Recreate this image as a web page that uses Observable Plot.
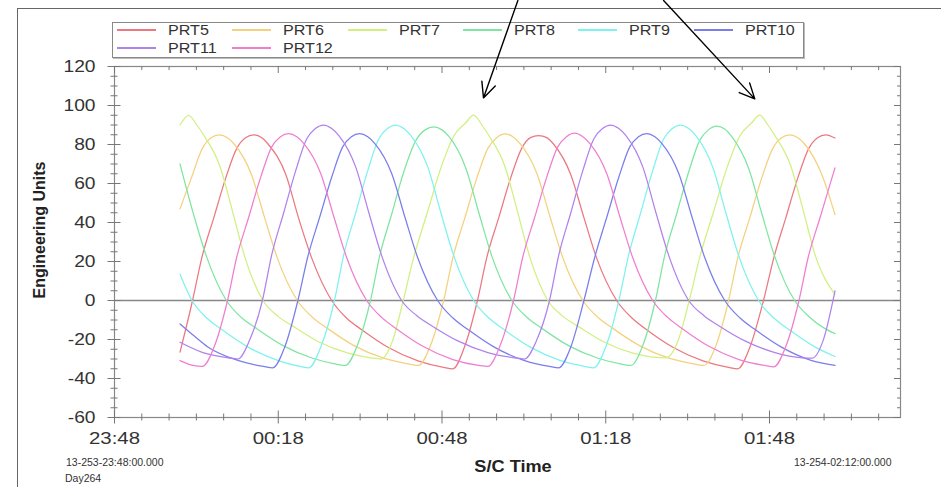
<!DOCTYPE html>
<html><head><meta charset="utf-8">
<script src="https://cdn.jsdelivr.net/npm/d3@7"></script>
<script src="https://cdn.jsdelivr.net/npm/@observablehq/plot@0.6"></script>
<style>
body{margin:0;background:#fff;font-family:"Liberation Sans",Arial,sans-serif;color:#333;}
#wrap{position:relative;width:941px;height:487px;overflow:hidden;background:#fff;}
#outer{position:absolute;left:17px;top:8px;width:1000px;height:600px;border-left:1.5px solid #666;border-top:1.5px solid #666;}
#legend{position:absolute;left:112px;top:22px;width:690px;height:34px;border:1px solid #888;box-shadow:1px 1px 0 #bbb;background:#fff;}
.li{position:absolute;font-size:14px;color:#333;line-height:14px;transform:scaleX(1.15);transform-origin:left center;}
.ll{position:absolute;height:2px;width:39px;}
#chart{position:absolute;left:0;top:0;}
.ylab{position:absolute;left:40px;top:230px;transform:translate(-50%,-50%) rotate(-90deg);font-weight:bold;font-size:16px;color:#222;white-space:nowrap;}
.xlab{position:absolute;left:513px;top:457px;transform:translateX(-50%) scaleX(1.1);font-weight:bold;font-size:16.5px;color:#222;}
.small{position:absolute;font-size:10.5px;color:#333;white-space:nowrap;}
</style></head><body>
<div id="wrap">
  <div id="outer"></div>
  <div id="legend"></div>
  <div id="chart"></div>
  <div class="ylab">Engineering Units</div>
  <div class="xlab">S/C Time</div>
  <div class="small" style="left:66px;top:456px">13-253-23:48:00.000</div>
  <div class="small" style="left:65px;top:472px">Day264</div>
  <div class="small" style="left:794px;top:456px">13-254-02:12:00.000</div>
</div>
<script>
// ---- data (minutes after 00:00 on day 254, value in engineering units) ----
const seriesNames = ["PRT5","PRT6","PRT7","PRT8","PRT9","PRT10","PRT11","PRT12"];
const seriesColors = ["#ec7880","#f4d17e","#d0f080","#7ee6a0","#7ef2ee","#7a7eea","#b082ec","#f07ed0"];

const prt5 = [[0,-26.5],[2.3,0],[4.0,22],[6.2,42.5],[8.4,63],[10.4,78],[12.0,83.5],[13.5,85],[15.0,83.5],[16.2,80],[19.4,64.5],[21.7,42.5],[24.1,22],[27.8,0],[30.5,-9],[33.3,-15],[38.1,-24],[43.6,-31],[48.3,-34.3],[50.0,-35],[52.1,-24],[54.5,0],[56.2,22],[58.4,42.5],[60.6,63],[62.6,78],[64.2,83.5],[65.7,84.6],[67.2,83.5],[68.5,80],[71.6,64.5],[74.0,42.5],[76.3,22],[80.0,0],[82.8,-9],[85.5,-15],[90.3,-24],[95.8,-31],[100.5,-34.3],[102.2,-35],[104.4,-24],[106.9,0],[108.8,22],[111.0,42.5],[113.2,63],[115.2,78],[116.8,83.5],[118.3,85],[120,83.3]];
const prt6 = [[0,47],[2.1,63],[4.1,78],[5.7,83.5],[7.2,85],[8.7,83.5],[10.0,80],[13.1,64.5],[15.5,42.5],[17.8,22],[21.5,0],[24.3,-8.7],[27.0,-14.3],[31.8,-23],[37.3,-29.6],[42.0,-32.6],[43.7,-33.3],[45.9,-23],[48.3,0],[50.0,22],[52.2,42.5],[54.4,63],[56.4,78],[58.0,83.5],[59.5,85.5],[61.0,84],[62.3,80.4],[65.4,65],[67.8,42.8],[70.1,22.2],[73.8,0],[76.6,-8.7],[79.3,-14.3],[84.1,-23],[89.6,-29.6],[94.3,-32.6],[96.0,-33.3],[98.2,-23],[100.5,0],[102.2,22],[104.4,42.5],[106.6,63],[108.6,78],[110.2,83.5],[111.7,85],[113.2,83.5],[114.5,80],[117.6,64.5],[120,44]];
const prt7 = [[0,90],[1.6,95],[3.1,90],[4.3,85],[7.3,69],[9.6,46],[11.8,23],[15.2,0],[17.9,-8],[20.6,-13],[25.3,-21],[30.8,-27],[35.0,-29.4],[36.8,-30],[38.9,-21],[40.9,0],[42.8,22],[45.3,45],[47.8,68],[50.3,85],[52.3,91],[53.8,95],[55.3,90],[56.5,85],[59.5,69],[61.8,46],[64.0,23],[67.4,0],[70.1,-8],[72.8,-13],[77.5,-21],[83.0,-27],[87.2,-29.2],[89.0,-29.4],[91.2,-21],[93.3,0],[95.2,22],[97.7,45],[100.2,68],[102.7,85],[104.7,91],[106.2,95],[107.7,90],[108.9,85],[111.9,69],[114.2,46],[116.4,23],[120,3]];
const prt8 = [[0,70],[2.45,44.5],[4.8,23],[8.5,0],[11.25,-8.7],[14.0,-14.3],[18.8,-23],[24.3,-29.6],[28.6,-32.6],[30.3,-33.3],[32.5,-23],[34.9,0],[36.6,23],[38.8,44.5],[41.0,66],[43.2,82],[44.9,87.5],[46.5,89],[48.0,87.5],[49.3,84],[52.4,67.6],[54.8,44.5],[57.1,23],[60.8,0],[63.6,-8.7],[66.3,-14.3],[71.1,-23],[76.6,-29.6],[80.9,-32.6],[82.6,-33.3],[84.8,-23],[87.1,0],[88.8,23],[91.0,44.5],[93.2,66],[95.2,82],[96.8,87.5],[98.3,89.4],[99.8,88],[101.1,84],[104.2,67.6],[106.6,44.5],[108.9,23],[112.6,0],[115.4,-8.7],[118.1,-14.3],[120,-17]];
const prt9 = [[0,13.5],[2.2,0],[4.9,-9],[7.6,-14.8],[12.4,-23.8],[17.9,-30.7],[22.0,-33.8],[23.6,-34.5],[25.8,-23.8],[28.3,0],[30.0,23.4],[32.2,45],[34.4,66.6],[36.4,82.8],[38.0,88.2],[39.5,90],[41.0,88.2],[42.3,84.6],[45.4,68.4],[47.8,45],[50.1,23.4],[53.8,0],[56.6,-9],[59.3,-14.8],[64.1,-23.8],[69.6,-30.7],[74.1,-33.8],[75.8,-34.5],[78.0,-23.8],[80.4,0],[82.2,23.4],[84.4,45],[86.6,66.6],[88.6,82.8],[90.2,88.2],[91.7,90],[93.2,88.2],[94.5,84.6],[97.6,68.4],[100.0,45],[102.3,23.4],[106.0,0],[108.8,-9],[111.5,-14.8],[116.3,-23.8],[120,-28.7]];
const prt10 = [[0,-12],[2.5,-18],[5.1,-23.8],[10.6,-30.7],[15.3,-33.8],[17.0,-34.5],[19.2,-23.8],[21.6,0],[23.4,22.3],[25.6,42.8],[27.8,63.3],[29.8,78.8],[31.4,84],[32.9,85.6],[34.4,84],[35.7,80.5],[38.8,65],[41.2,42.8],[43.5,22.3],[47.2,0],[50.0,-9],[52.7,-14.8],[57.5,-23.8],[63.0,-30.7],[67.7,-33.8],[69.4,-34.5],[71.6,-23.8],[74.0,0],[76.0,22.3],[78.2,42.8],[80.4,63.3],[82.4,78.8],[84.0,84],[85.5,85.6],[87.0,84],[88.3,80.5],[91.4,65],[93.8,42.8],[96.1,22.3],[99.8,0],[102.6,-9],[105.3,-14.8],[110.1,-23.8],[115.6,-30.7],[120,-33.3]];
const prt11 = [[0,-21.4],[4.2,-26.7],[8.9,-29.4],[10.6,-30],[12.7,-20.7],[15.1,0],[16.8,23.4],[19.0,45],[21.2,66.6],[23.2,82.8],[24.8,88.2],[26.3,90],[27.8,88.2],[29.1,84.6],[32.2,68.4],[34.6,45],[36.9,23.4],[40.6,0],[43.4,-7.8],[46.1,-12.9],[50.9,-20.7],[56.4,-26.7],[61.3,-29.4],[63.1,-30],[65.3,-20.7],[67.7,0],[69.4,23.4],[71.6,45],[73.8,66.6],[75.8,82.8],[77.4,88.2],[78.9,90],[80.4,88.2],[81.7,84.6],[84.8,68.4],[87.2,45],[89.5,23.4],[93.2,0],[96.0,-7.8],[98.7,-12.9],[103.5,-20.7],[109.0,-26.7],[114.0,-29.4],[115.8,-29.6],[117.8,-20.7],[120,5]];
const prt12 = [[0,-30.8],[2.4,-33.3],[4.1,-33.8],[6.3,-23.5],[8.7,0],[10.4,22.3],[12.6,42.8],[14.8,63.4],[16.8,78.8],[18.4,84],[19.9,85.6],[21.4,84],[22.7,80.5],[25.8,65],[28.2,42.8],[30.5,22.3],[34.2,0],[37.0,-8.8],[39.7,-14.6],[44.5,-23.5],[50.0,-30.3],[54.7,-33.3],[56.4,-33.8],[58.6,-23.5],[61.1,0],[62.8,22.3],[65.0,42.8],[67.2,63.4],[69.2,78.8],[70.8,84],[72.3,85.8],[73.8,84],[75.1,80.5],[78.2,65],[80.6,42.8],[82.9,22.3],[86.6,0],[89.4,-8.8],[92.1,-14.6],[96.9,-23.5],[102.4,-30.3],[107.1,-33.3],[108.8,-34],[111.0,-23.5],[113.4,0],[115.1,22.3],[117.3,42.8],[119.5,63.4],[120,68]];
const seriesData = [prt5, prt6, prt7, prt8, prt9, prt10, prt11, prt12];

// axis ticks (minutes after 00:00)
const xDomainMinutes = [-12, 132];
const xMajorMinutes = [-12, 18, 48, 78, 108];
const xTickLabels = ["23:48","00:18","00:48","01:18","01:48"];
const xMinorMinutes = [-7,-2,3,8,13,23,28,33,38,43,53,58,63,68,73,83,88,93,98,103,113,118,123,128];
const yMajor = [-60,-40,-20,0,20,40,60,80,100,120];
const yMinor = [-55,-50,-45,-35,-30,-25,-15,-10,-5,5,10,15,25,30,35,45,50,55,65,70,75,85,90,95,105,110,115];

// annotation arrows pointing at PRT7 peaks (start above the plot)
const arrowFromMin = [61.9, 88.6];
const arrowFromVal = [153.8, 153.8];
const arrowToMin = [55.6, 105.3];
const arrowToVal = [103.9, 103.4];

// ---- build ----
const T0 = Date.UTC(2013, 8, 11, 0, 0);
const toDate = m => new Date(T0 + m * 60000);
const rows = [];
seriesNames.forEach((name, i) => seriesData[i].forEach(([m, v]) => rows.push({series: name, time: toDate(m), value: v})));
const arrows = arrowFromMin.map((m, i) => ({t1: toDate(m), v1: arrowFromVal[i], t2: toDate(arrowToMin[i]), v2: arrowToVal[i]}));

const W = 941, H = 487, ML = 114, MR = 41, MT = 66, MB = 70;
const PW = W - ML - MR, PH = H - MT - MB;
const tickColor = "#777";

const chart = Plot.plot({
  width: W, height: H,
  marginLeft: ML, marginRight: MR, marginTop: MT, marginBottom: MB,
  style: {background: "transparent", fontFamily: "'Liberation Sans', Arial, sans-serif", color: "#333", overflow: "visible"},
  x: {type: "utc", domain: xDomainMinutes.map(toDate)},
  y: {domain: [-60, 120]},
  color: {domain: seriesNames, range: seriesColors},
  marks: [
    Plot.ruleY([0], {stroke: "#888", strokeWidth: 1.5}),
    Plot.line(rows, {x: "time", y: "value", z: "series", stroke: "series", curve: "monotone-x", strokeWidth: 1.25}),
    Plot.frame({stroke: "#888", strokeWidth: 1.2}),
    // left ticks crossing the axis
    Plot.tickY(yMajor, {y: d => d, insetRight: PW - 13, dx: -6.5, stroke: tickColor}),
    Plot.tickY(yMinor, {y: d => d, insetRight: PW - 7, dx: -3.5, stroke: tickColor}),
    // right ticks inward
    Plot.tickY(yMajor, {y: d => d, insetLeft: PW - 6, stroke: tickColor}),
    Plot.tickY(yMinor, {y: d => d, insetLeft: PW - 3, stroke: tickColor}),
    // bottom ticks crossing the axis
    Plot.tickX(xMajorMinutes.map(toDate), {x: d => d, insetTop: PH - 13, dy: 6.5, stroke: tickColor}),
    Plot.tickX(xMinorMinutes.map(toDate), {x: d => d, insetTop: PH - 7, dy: 3.5, stroke: tickColor}),
    // top ticks inward
    Plot.tickX(xMajorMinutes.map(toDate), {x: d => d, insetBottom: PH - 7, stroke: tickColor}),
    Plot.tickX(xMinorMinutes.map(toDate), {x: d => d, insetBottom: PH - 4, stroke: tickColor}),
    Plot.axisY({ticks: yMajor, tickSize: 0, tickPadding: 19, label: null, fontSize: 16, tickFormat: d => String(d)}),
    Plot.axisX({ticks: xMajorMinutes.map(toDate), tickSize: 0, tickPadding: 14, label: null, fontSize: 17,
      tickFormat: d => xTickLabels[xMajorMinutes.indexOf(Math.round((d - T0) / 60000))]}),
    Plot.arrow(arrows, {x1: "t1", y1: "v1", x2: "t2", y2: "v2", stroke: "black", strokeWidth: 1.4, headLength: 18, headAngle: 50})
  ]
});
document.getElementById("chart").appendChild(chart);

// widen tick label glyphs horizontally, like the reference rendering
function stretch(sel, s) {
  chart.querySelectorAll(sel).forEach(t => {
    const x = +t.getAttribute("x") || 0, y = +t.getAttribute("y") || 0;
    const tr = t.getAttribute("transform") || "";
    t.setAttribute("transform", `${tr} translate(${x},${y}) scale(${s},1) translate(${-x},${-y})`);
  });
}
stretch('g[aria-label="y-axis tick label"] text', 1.2);
stretch('g[aria-label="x-axis tick label"] text', 1.2);

// legend
const legend = document.getElementById("legend");
seriesNames.forEach((name, i) => {
  const col = i % 6, row = Math.floor(i / 6);
  const line = document.createElement("div");
  line.className = "ll";
  line.style.left = (4 + col * 115.3) + "px";
  line.style.top = (6 + row * 18) + "px";
  line.style.background = seriesColors[i];
  legend.appendChild(line);
  const lab = document.createElement("div");
  lab.className = "li";
  lab.style.left = (55 + col * 115.3) + "px";
  lab.style.top = (0 + row * 18) + "px";
  lab.textContent = name;
  legend.appendChild(lab);
});
</script>
</body></html>
